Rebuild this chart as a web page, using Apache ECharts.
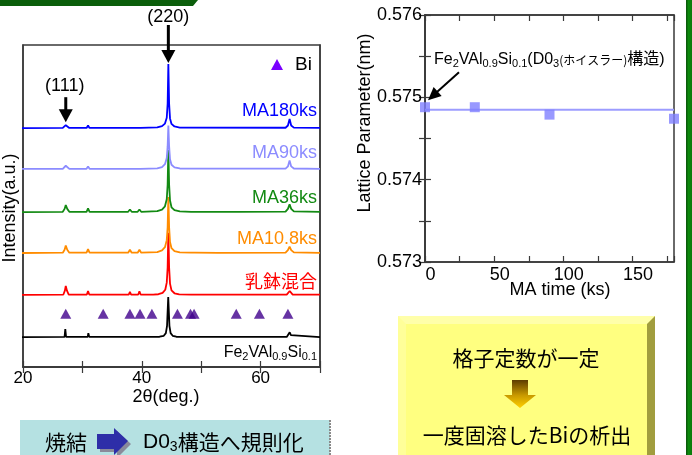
<!DOCTYPE html>
<html>
<head>
<meta charset="utf-8">
<script src="https://cdn.jsdelivr.net/npm/echarts@6/dist/echarts.min.js"></script>
<style>
html,body{margin:0;padding:0;background:#fff;}
#c{width:692px;height:455px;}
</style>
</head>
<body>
<div id="c"></div>
<script>
// ---- XRD patterns: [2theta (deg), intensity above the trace's own baseline] ----
const traceNames   = ['Fe2VAl0.9Si0.1', '乳鉢混合', 'MA10.8ks', 'MA36ks', 'MA90ks', 'MA180ks'];
const traceColors  = ['#000000', '#ff0000', '#ff8c00', '#138a13', '#8c8cff', '#0000ff'];
const traceOffsets = [9.3, 22.4, 35.4, 48.1, 61.5, 74.2];

const xrdFe2VAlSi = [[19.5,0],[27.0,0.05],[27.12,2.5],[27.25,0.05],[30.9,0.05],[31.0,1.2],[31.15,0.05],
  [43.0,0.1],[43.7,0.4],[44.05,1.2],[44.25,3.5],[44.45,12.4],[44.65,3.5],[44.85,1.2],[45.2,0.4],[45.8,0.1],
  [64.4,0.05],[64.7,0.6],[64.9,1.5],[65.1,0.6],[65.4,0.05],[70,0]];
const xrdMortar = [[19.5,0],[26.8,0.1],[27.05,1.3],[27.2,2.8],[27.4,1.3],[27.7,0.1],[30.75,0.1],[30.95,1.2],[31.15,0.1],
  [37.8,0.1],[38.0,0.9],[38.2,0.1],[39.4,0.1],[39.6,1.1],[39.8,0.1],[41.5,0.1],[41.7,0.4],[41.9,0.1],
  [42.8,0.2],[43.5,0.6],[43.95,1.6],[44.2,3.8],[44.35,8.5],[44.47,19.3],[44.6,8.5],[44.75,3.5],[45.0,1.4],[45.5,0.5],[46.3,0.15],
  [48.3,0.05],[48.6,0.4],[48.9,0.05],[64.4,0.1],[64.7,0.6],[64.9,1.2],[65.1,0.6],[65.4,0.1],[70,0.05]];
const xrdMA10_8 = [[19.5,0],[26.7,0.1],[27.0,1.0],[27.2,2.3],[27.45,1.0],[27.8,0.1],[30.7,0.1],[30.95,1.2],[31.2,0.1],
  [37.7,0.1],[38.0,1.0],[38.3,0.1],[39.3,0.1],[39.6,1.0],[39.9,0.1],
  [42.6,0.3],[43.4,0.8],[43.9,1.8],[44.2,4.0],[44.35,8.0],[44.47,17.4],[44.6,8.0],[44.75,3.4],[45.0,1.5],[45.5,0.6],[46.4,0.2],
  [48.3,0.1],[48.6,0.4],[48.9,0.1],[52.8,0.05],[53.0,0.25],[53.2,0.05],
  [64.2,0.15],[64.6,0.9],[64.88,2.0],[65.15,0.9],[65.6,0.2],[70,0.05]];
const xrdMA36 = [[19.5,0],[26.7,0.1],[27.0,1.0],[27.2,2.2],[27.45,1.0],[27.8,0.1],[30.7,0.1],[30.95,1.2],[31.2,0.1],
  [37.7,0.1],[38.0,0.8],[38.3,0.1],[39.3,0.1],[39.6,0.8],[39.9,0.1],
  [42.6,0.3],[43.4,0.8],[43.9,1.8],[44.2,4.0],[44.35,8.5],[44.47,19.3],[44.6,8.5],[44.75,3.6],[45.0,1.5],[45.5,0.6],[46.4,0.2],
  [48.3,0.1],[48.6,0.4],[48.9,0.1],[52.8,0.05],[53.0,0.3],[53.2,0.05],[55.8,0.05],[56.0,0.3],[56.2,0.05],
  [64.2,0.15],[64.6,1.0],[64.88,2.4],[65.15,1.0],[65.6,0.2],[70,0.05]];
const xrdMA90 = [[19.5,0],[26.7,0.05],[27.0,0.5],[27.2,1.0],[27.45,0.5],[27.8,0.05],[30.7,0.05],[30.95,0.8],[31.2,0.05],
  [37.8,0.05],[38.0,0.4],[38.2,0.05],[39.4,0.05],[39.6,0.4],[39.8,0.05],
  [42.6,0.2],[43.4,0.6],[43.9,1.5],[44.2,3.4],[44.35,7.0],[44.47,13.5],[44.6,7.0],[44.75,3.0],[45.0,1.3],[45.5,0.5],[46.4,0.15],
  [64.2,0.1],[64.6,0.8],[64.88,2.6],[65.15,0.8],[65.6,0.15],[70,0.05]];
const xrdMA180 = [[19.5,0],[26.7,0.05],[27.0,0.5],[27.2,0.9],[27.45,0.5],[27.8,0.05],[30.7,0.05],[30.95,0.8],[31.2,0.05],
  [37.8,0.05],[38.0,0.4],[38.2,0.05],[39.4,0.05],[39.6,0.4],[39.8,0.05],
  [42.6,0.2],[43.4,0.6],[43.9,1.4],[44.2,3.2],[44.35,7.5],[44.47,19.9],[44.6,7.5],[44.75,3.0],[45.0,1.3],[45.5,0.5],[46.4,0.15],
  [64.2,0.1],[64.6,0.8],[64.88,2.8],[65.15,0.8],[65.6,0.15],[70,0.05]];
const xrdTraces = [xrdFe2VAlSi, xrdMortar, xrdMA10_8, xrdMA36, xrdMA90, xrdMA180];

// Bi reference reflections (2theta) and the level of their marker row
const biPeaks = [27.2, 33.5, 38.0, 39.7, 41.7, 46.0, 48.2, 48.8, 55.9, 59.8, 64.6];
const biMarkerLevel = 16.5;

// ---- Lattice parameter vs milling time ----
const maTime = [0, 36, 90, 180];
const latticeParam = [0.57488, 0.57488, 0.57479, 0.57474];
const latticeLevel = 0.57485;

const FONT = 'Arial, "Liberation Sans", "Noto Sans CJK JP", sans-serif';
const AXIS = '#3a3a3a';

const chart = echarts.init(document.getElementById('c'));

const inTick = {show: true, inside: true, length: 6, lineStyle: {color: AXIS, width: 1.2}};
const axLine = {show: true, lineStyle: {color: AXIS, width: 1.5}};

const xrdSeries = xrdTraces.map((tr, i) => ({
  type: 'line', xAxisIndex: 0, yAxisIndex: 0, name: traceNames[i],
  data: tr.map(p => [p[0], p[1] + traceOffsets[i]]),
  symbol: 'none', clip: false, animation: false,
  lineStyle: {color: traceColors[i], width: 1.8}, z: 2 + i
}));

chart.setOption({
  animation: false,
  grid: [
    {left: 23, top: 45, width: 297, height: 322, show: true, borderColor: AXIS, borderWidth: 1.5},
    {left: 425, top: 15, width: 249, height: 247, show: true, borderColor: AXIS, borderWidth: 1.5}
  ],
  xAxis: [
    {gridIndex: 0, type: 'value', min: 20, max: 70, interval: 10, position: 'bottom',
     axisLine: axLine, axisTick: inTick, splitLine: {show: false},
     axisLabel: {margin: 3, color: '#000', fontSize: 17, fontFamily: FONT,
       formatter: v => (v % 20 === 0 ? String(v) : '')}},
    {gridIndex: 0, type: 'value', min: 20, max: 70, interval: 10, position: 'top',
     axisLine: axLine, axisTick: inTick, splitLine: {show: false}, axisLabel: {show: false}},
    {gridIndex: 1, type: 'value', min: 0, max: 180, interval: 25, position: 'bottom',
     axisLine: axLine, axisTick: inTick, splitLine: {show: false},
     axisLabel: {margin: 4, color: '#000', fontSize: 18, fontFamily: FONT, padding: [0, 0, 0, 11],
       formatter: v => (v % 50 === 0 ? String(v) : '')}},
    {gridIndex: 1, type: 'value', min: 0, max: 180, interval: 25, position: 'top',
     axisLine: axLine, axisTick: inTick, splitLine: {show: false}, axisLabel: {show: false}}
  ],
  yAxis: [
    {gridIndex: 0, type: 'value', min: 0, max: 100, axisLine: axLine,
     axisTick: {show: false}, axisLabel: {show: false}, splitLine: {show: false}},
    {gridIndex: 0, type: 'value', min: 0, max: 100, position: 'right', axisLine: axLine,
     axisTick: {show: false}, axisLabel: {show: false}, splitLine: {show: false}},
    {gridIndex: 1, type: 'value', min: 0.573, max: 0.576, interval: 0.0005,
     axisLine: axLine, axisTick: inTick, splitLine: {show: false},
     axisLabel: {margin: 3, color: '#000', fontSize: 18, fontFamily: FONT,
       formatter: v => (Math.abs(v * 1000 - Math.round(v * 1000)) < 1e-6 ? v.toFixed(3) : '')}},
    {gridIndex: 1, type: 'value', min: 0.573, max: 0.576, interval: 0.0005, position: 'right',
     axisLine: axLine, axisTick: inTick, splitLine: {show: false}, axisLabel: {show: false}}
  ],
  series: xrdSeries.concat([
    {type: 'scatter', xAxisIndex: 0, yAxisIndex: 0, name: 'Bi',
     data: biPeaks.map(t => [t, biMarkerLevel]),
     symbol: 'triangle', symbolSize: [11, 10], itemStyle: {color: '#40008c'}, z: 10},
    {type: 'line', xAxisIndex: 2, yAxisIndex: 2, name: 'level',
     data: [[maTime[0], latticeLevel], [maTime[maTime.length - 1], latticeLevel]],
     symbol: 'none', lineStyle: {color: '#9c9cff', width: 2}, z: 2},
    {type: 'scatter', xAxisIndex: 2, yAxisIndex: 2, name: 'lattice',
     data: maTime.map((t, i) => [t, latticeParam[i]]), clip: false,
     symbol: 'rect', symbolSize: 10, itemStyle: {color: '#8080ff'}, z: 3}
  ])
});

// ---- annotations, labels and slide panels ----
const px = (g, p) => chart.convertToPixel({gridIndex: g}, p);
const G = [];
const txt = (x, y, text, o) => G.push(Object.assign({type: 'text', x: x, y: y, z: 50,
  style: Object.assign({text: text, font: '18px ' + FONT, fill: '#000', align: 'center', verticalAlign: 'middle'}, o || {})}));
const poly = (pts, fill, z) => G.push({type: 'polygon', z: z || 50, shape: {points: pts}, style: {fill: fill}});

// down-pointing arrow with a shaft
function downArrow(tip, shaft) {
  G.push({type: 'line', z: 50, shape: {x1: tip[0], y1: tip[1] - shaft, x2: tip[0], y2: tip[1] - 11},
    style: {stroke: '#000', lineWidth: 3}});
  poly([[tip[0] - 7, tip[1] - 13], [tip[0] + 7, tip[1] - 13], [tip[0], tip[1]]], '#000');
}

// (220) and (111) reflections of the top pattern
const topIdx = traceOffsets.length - 1;
const p220 = px(0, [44.47, traceOffsets[topIdx] + 19.9]);
downArrow([p220[0], p220[1] - 1], 38);
txt(p220[0], p220[1] - 47, '(220)');
const p111 = px(0, [27.2, traceOffsets[topIdx] + 0.9]);
downArrow([p111[0], p111[1] - 3], 25);
txt(p111[0] - 1, p111[1] - 39, '(111)');

// Bi legend
poly([[271, 70], [283, 70], [277, 59]], '#7a00ff');
txt(295, 65, 'Bi', {align: 'left', font: '19px ' + FONT});

// pattern names at the right end of each trace
const nameDy = [16, -12, -14, -14, -16, -17];
traceNames.forEach((n, i) => {
  const p = px(0, [70, traceOffsets[i]]);
  if (i === 0) {
    txt(p[0] - 3, p[1] + nameDy[i], '{m|Fe}{s|2}{m|VAl}{s|0.9}{m|Si}{s|0.1}', {
      align: 'right', rich: {
        m: {font: '16px ' + FONT, fill: '#000', lineHeight: 18},
        s: {font: '11px ' + FONT, fill: '#000', lineHeight: 8, verticalAlign: 'bottom'}}});
  } else {
    txt(p[0] - 3, p[1] + nameDy[i], n, {align: 'right', fill: traceColors[i]});
  }
});

// axis titles
txt(10, 208, 'Intensity(a.u.)', {});
G[G.length - 1].rotation = Math.PI / 2;
txt(166, 397, '2θ(deg.)', {});
txt(365, 123, 'Lattice Parameter(nm)', {});
G[G.length - 1].rotation = Math.PI / 2;
txt(560, 290, 'MA time (ks)', {});

// structure annotation with its arrow
const p0 = px(1, [maTime[0], latticeParam[0]]);
const tip = [p0[0] + 3, p0[1] - 7], tail = [tip[0] + 31, tip[1] - 28];
{
  const dx = tip[0] - tail[0], dy = tip[1] - tail[1], L = Math.hypot(dx, dy);
  const ux = dx / L, uy = dy / L, hl = 13, hw = 6;
  const bx = tip[0] - ux * hl, by = tip[1] - uy * hl;
  G.push({type: 'line', z: 50, shape: {x1: tail[0], y1: tail[1], x2: bx + ux * 2, y2: by + uy * 2},
    style: {stroke: '#000', lineWidth: 2}});
  poly([[tip[0], tip[1]], [bx - uy * hw, by + ux * hw], [bx + uy * hw, by - ux * hw]], '#000');
}
txt(434, 60, '{m|Fe}{s|2}{m|VAl}{s|0.9}{m|Si}{s|0.1}{m|(D0}{s|3}{k|(ホイスラー)}{m|構造)}', {
  align: 'left', rich: {
    m: {font: '16px ' + FONT, fill: '#000', lineHeight: 18},
    s: {font: '11px ' + FONT, fill: '#000', lineHeight: 8, verticalAlign: 'bottom'},
    k: {font: '12px "Noto Sans CJK JP", sans-serif', fill: '#000', lineHeight: 18}}});

// slide decoration bars
poly([[0, 0], [198, 0], [193, 6], [0, 6]], '#0b5e0b', 1);
G.push({type: 'rect', z: 1, shape: {x: 686, y: 0, width: 6, height: 455},
  style: {fill: {type: 'linear', x: 0, y: 0, x2: 1, y2: 0,
    colorStops: [{offset: 0, color: '#0a4f0a'}, {offset: 0.4, color: '#0c8a0c'}, {offset: 1, color: '#0a7a0a'}]}}});

// sintering note panel
G.push({type: 'rect', z: 1, shape: {x: 20, y: 420, width: 310, height: 40}, style: {fill: '#b5e1e2'}});
G.push({type: 'line', z: 2, shape: {x1: 330, y1: 420, x2: 330, y2: 455},
  style: {stroke: '#8a8a8a', lineWidth: 2, lineDash: [2, 1]}});
txt(66, 442, '焼結', {font: '21px "Noto Sans CJK JP", sans-serif'});
poly([[100, 437], [117, 437], [117, 431], [131, 444], [117, 458], [117, 452], [100, 452]], '#8a8a9a', 3);
poly([[97, 434], [114, 434], [114, 428], [128, 441], [114, 455], [114, 449], [97, 449]], '#2e2ea8', 4);
txt(143, 442, '{m|D0}{s|3}{c|構造へ規則化}', {align: 'left', rich: {
  m: {font: '21px ' + FONT, fill: '#000', lineHeight: 24},
  s: {font: '14px ' + FONT, fill: '#000', lineHeight: 10, verticalAlign: 'bottom'},
  c: {font: '21px "Noto Sans CJK JP", sans-serif', fill: '#000', lineHeight: 24}}});

// conclusion panel (bevelled yellow box)
G.push({type: 'rect', z: 1, shape: {x: 398, y: 316, width: 257, height: 145}, style: {fill: '#ffff99'}});
poly([[398, 316], [655, 316], [647, 324], [406, 324]], '#ffffaa', 2);
poly([[647, 324], [655, 316], [655, 461], [647, 461]], '#a19d3e', 2);
G.push({type: 'rect', z: 2, shape: {x: 406, y: 324, width: 241, height: 137}, style: {fill: '#ffff80'}});
txt(526, 358, '格子定数が一定', {font: '21px "Noto Sans CJK JP", sans-serif'});
G.push({type: 'polygon', z: 50, shape: {points: [[512, 380], [528, 380], [528, 395], [536, 395], [520, 408], [504, 395], [512, 395]]},
  style: {fill: {type: 'linear', x: 0, y: 0, x2: 0, y2: 1,
    colorStops: [{offset: 0, color: '#5c3d00'}, {offset: 0.55, color: '#c99a00'}, {offset: 1, color: '#ffd000'}]}}});
txt(527, 435, '一度固溶したBiの析出', {font: '21px "Noto Sans CJK JP", "Liberation Sans", sans-serif'});

chart.setOption({graphic: G});
</script>
</body>
</html>
